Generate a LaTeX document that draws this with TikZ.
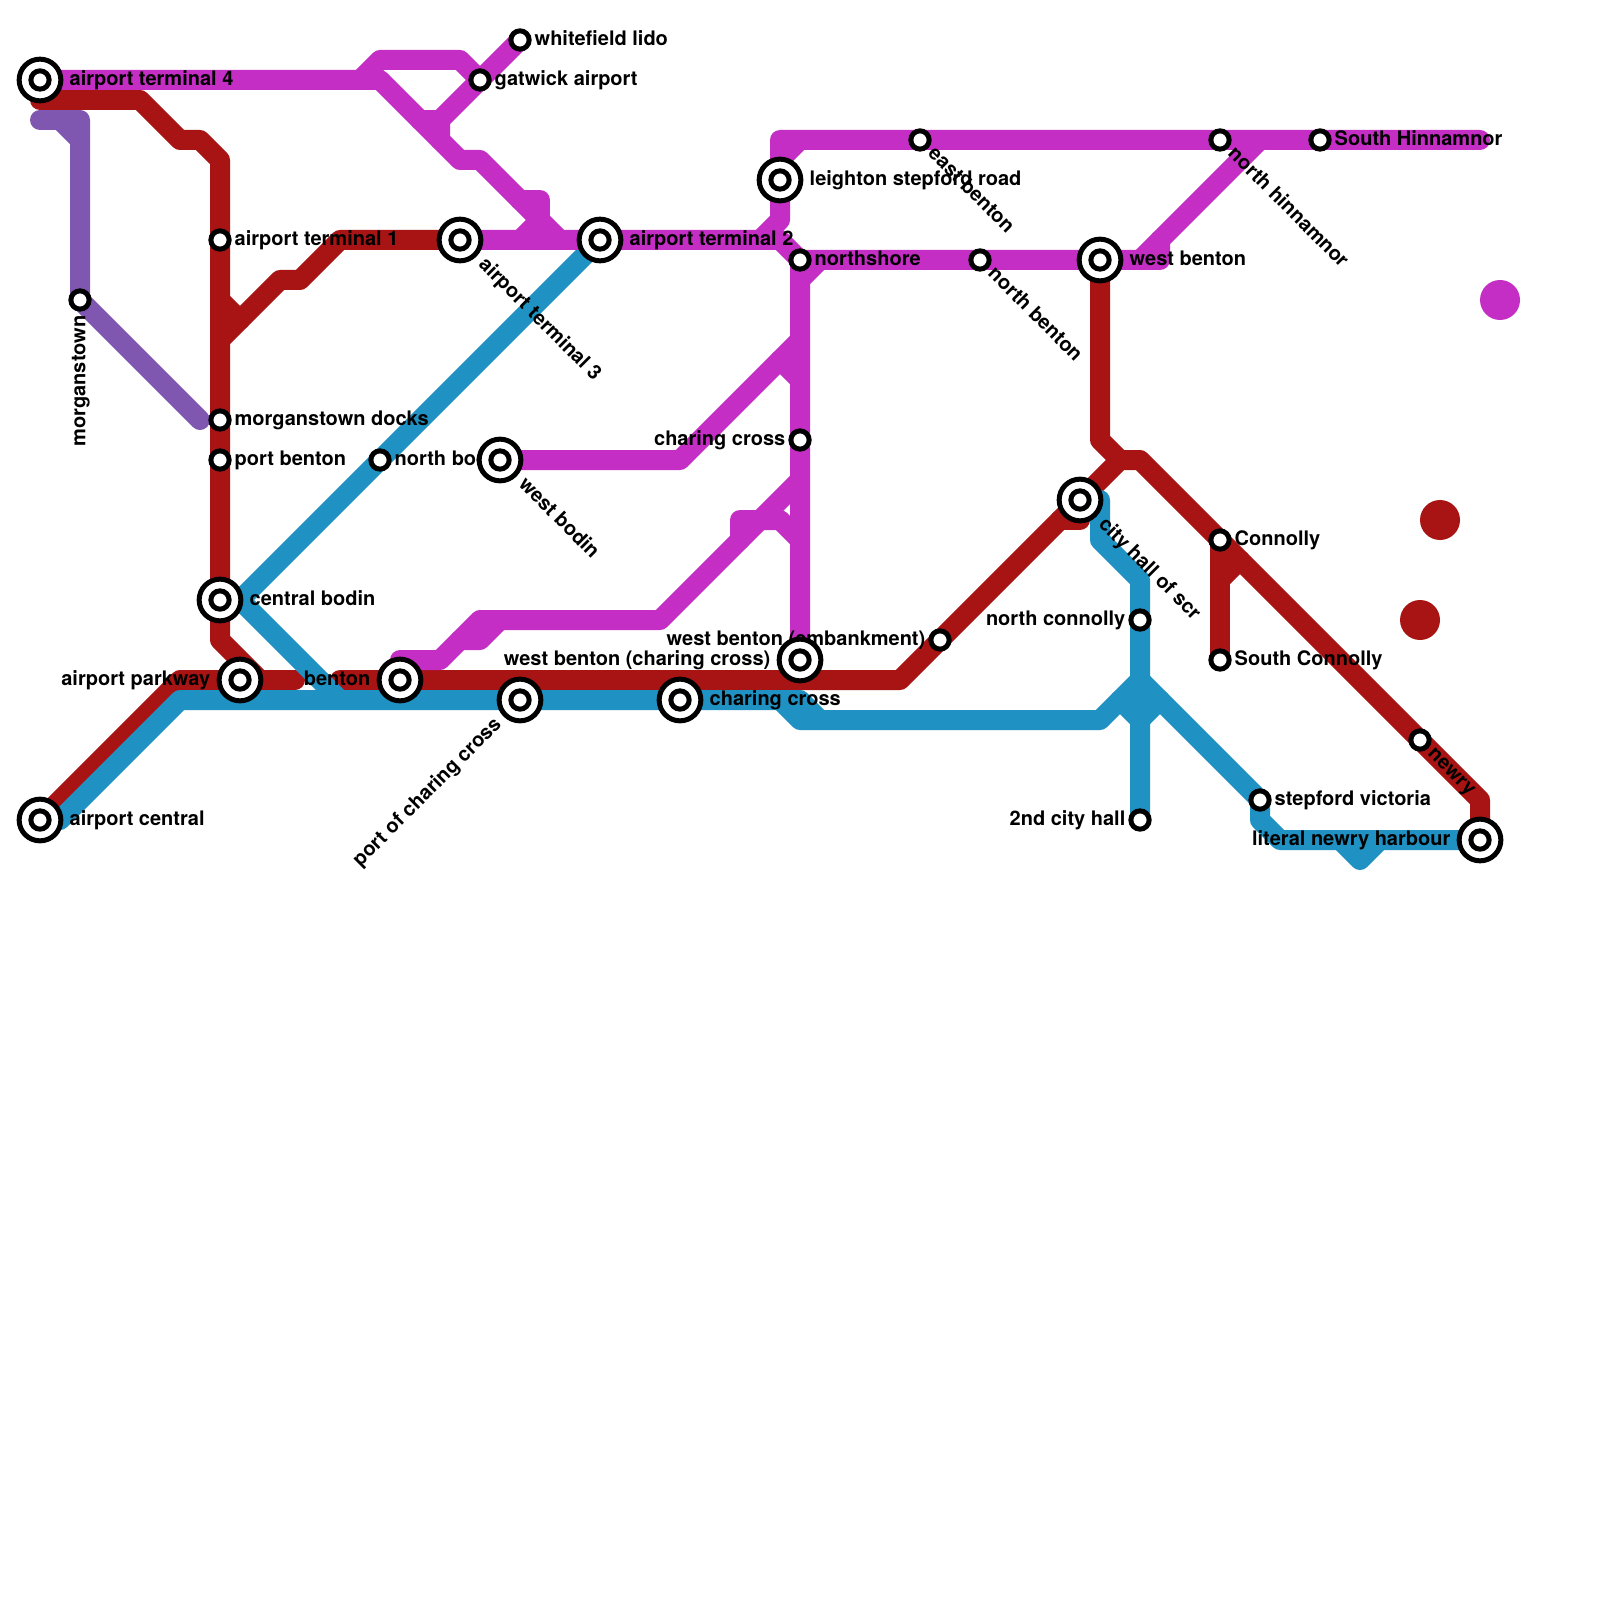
\documentclass[tikz,border=0pt]{standalone}
\usepackage{fontspec}
\setmainfont{TeX Gyre Heros}
\usetikzlibrary{positioning}
\definecolor{magline}{HTML}{C42EC4}
\definecolor{redline}{HTML}{A81414}
\definecolor{blueline}{HTML}{1F91C2}
\definecolor{purpline}{HTML}{7F57B0}
\tikzset{
    route/.style={line width=2mm,line cap=round,line join=round},
    bigstop/.style={circle,draw=black,fill=white,line width=0.5mm,minimum size=4.17mm,inner sep=0},
    smallstop/.style={circle,draw=black,fill=white,line width=0.5mm,minimum size=1.83mm,inner sep=0},
    stoplabel/.style={font=\bfseries\fontsize{5.69pt}{7pt}\selectfont,text=black,inner sep=0,
        text height=1.5mm,text depth=0.4mm},
    downlabel/.style={stoplabel,rotate=-45,anchor=west}
}
\begin{document}
\begin{tikzpicture}[x=2mm,y=-2mm]
    \useasboundingbox (0,0) rectangle (80,80);
    % interchanges
    \foreach \name/\x/\y in {at4/2/4,acen/2/41,cbod/11/30,apk/12/34,ben/20/34,pch/26/35,chx/34/35,
        wbc/40/33,at3/23/12,wbod/25/23,at2/30/12,lsr/39/9,wben/55/13,chs/54/25,lnh/74/42}
        \coordinate (\name) at (\x,\y);
    % plain stops
    \foreach \name/\x/\y in {wfl/26/2,gat/24/4,at1/11/12,mdk/11/21,pbn/11/23,mgt/4/15,nbo/19/23,
        ebn/46/7,nsh/40/13,nbn/49/13,chc/40/22,wbe/47/32,nhn/61/7,shn/66/7,con/61/27,sco/61/33,
        nco/57/31,hall/57/41,stv/63/40,nwy/71/37}
        \coordinate (\name) at (\x,\y);
    % purple line
    \draw[route,purpline] (2,6) -- (4,6) -- (mgt) -- (10,21);
    \draw[route,purpline] (3,6) -- (4,7);
    % red line
    \draw[route,redline] (2,5) -- (7,5) -- (9,7) -- (10,7) -- (11,8) -- (11,32) -- (13,34);
    \draw[route,redline] (11,17) -- (14,14) -- (15,14) -- (17,12) -- (at3);
    \draw[route,redline] (11,15) -- (12,16);
    \draw[route,redline] (acen) -- (9,34) -- (14.75,34);
    \draw[route,redline] (17,34) -- (45,34) -- (56,23) -- (57,23) -- (74,40) -- (lnh);
    \draw[route,redline] (53,26) -- (54,26);
    \draw[route,redline] (wben) -- (55,22) -- (56,23);
    \draw[route,redline] (con) -- (sco);
    \draw[route,redline] (61,29) -- (62,28);
    % blue line
    \draw[route,blueline] (acen) -- (3,41) -- (9,35) -- (40,35) -- (41,36);
    \draw[route,blueline] (39,35) -- (40,36) -- (55,36) -- (57,34) -- (stv) -- (63,41) -- (64,42) -- (lnh);
    \draw[route,blueline] (at2) -- (12,30) -- (17,35);
    \draw[route,blueline] (55,25) -- (55,27) -- (57,29) -- (hall);
    \draw[route,blueline] (56,35) -- (57,36) -- (58,35);
    \draw[route,blueline] (67,42) -- (68,43) -- (69,42);
    % magenta line
    \draw[route,magline] (at4) -- (19,4) -- (23,8) -- (24,8) -- (28,12);
    \draw[route,magline] (18,4) -- (19,3) -- (23,3) -- (gat);
    \draw[route,magline] (wfl) -- (22,6) -- (22,7);
    \draw[route,magline] (21,6) -- (22,6);
    \draw[route,magline] (26,10) -- (27,10) -- (27,12);
    \draw[route,magline] (26,12) -- (27,11);
    \draw[route,magline] (at3) -- (39,12) -- (40,13) -- (wbc);
    \draw[route,magline] (38,12) -- (39,11) -- (39,7) -- (74,7);
    \draw[route,magline] (39,8) -- (40,7);
    \draw[route,magline] (40,14) -- (41,13);
    \draw[route,magline] (nsh) -- (58,13) -- (58,12) -- (63,7);
    \draw[route,magline] (57,13) -- (58,12);
    \draw[route,magline] (wbod) -- (34,23) -- (40,17);
    \draw[route,magline] (39,18) -- (40,19);
    \draw[route,magline] (20,33) -- (22,33) -- (24,31) -- (33,31) -- (40,24);
    \draw[route,magline] (23,32) -- (24,32) -- (25,31);
    \draw[route,magline] (37,27) -- (37,26) -- (39,26) -- (40,27);
    % loose dots
    \fill[magline] (75,15) circle (2mm);
    \fill[redline] (72,26) circle (2mm);
    \fill[redline] (71,31) circle (2mm);
    % labels to the right
    \node[stoplabel,right=2.9mm of at4] (at4-t) {airport terminal 4};
    \node[stoplabel,right=2.9mm of acen] (acen-t) {airport central};
    \node[stoplabel,right=2.9mm of cbod] (cbod-t) {central bodin};
    \node[stoplabel,right=2.9mm of chx] (chx-t) {charing cross};
    \node[stoplabel,right=2.9mm of at2] (at2-t) {airport terminal 2};
    \node[stoplabel,right=2.9mm of lsr] (lsr-t) {leighton stepford road};
    \node[stoplabel,right=2.9mm of wben] (wben-t) {west benton};
    \node[stoplabel,right=1.4mm of wfl] (wfl-t) {whitefield lido};
    \node[stoplabel,right=1.4mm of gat] (gat-t) {gatwick airport};
    \node[stoplabel,right=1.4mm of at1] (at1-t) {airport terminal 1};
    \node[stoplabel,right=1.4mm of mdk] (mdk-t) {morganstown docks};
    \node[stoplabel,right=1.4mm of pbn] (pbn-t) {port benton};
    \node[stoplabel,right=1.4mm of nbo] (nbo-t) {north bodin};
    \node[stoplabel,right=1.4mm of nsh] (nsh-t) {northshore};
    \node[stoplabel,right=1.4mm of shn] (shn-t) {South Hinnamnor};
    \node[stoplabel,right=1.4mm of con] (con-t) {Connolly};
    \node[stoplabel,right=1.4mm of sco] (sco-t) {South Connolly};
    \node[stoplabel,right=1.4mm of stv] (stv-t) {stepford victoria};
    % labels to the left
    \node[stoplabel,left=2.9mm of apk] (apk-t) {airport parkway};
    \node[stoplabel,left=2.9mm of ben] (ben-t) {benton};
    \node[stoplabel,left=2.9mm of wbc] (wbc-t) {west benton (charing cross)};
    \node[stoplabel,left=2.9mm of lnh] (lnh-t) {literal newry harbour};
    \node[stoplabel,left=1.4mm of chc] (chc-t) {charing cross};
    \node[stoplabel,left=1.4mm of wbe] (wbe-t) {west benton (embankment)};
    \node[stoplabel,left=1.4mm of nco] (nco-t) {north connolly};
    \node[stoplabel,left=1.4mm of hall] (hall-t) {2nd city hall};
    % slanted labels
    \node[downlabel] (at3-t) at ([shift={(-45:3mm)}]at3) {airport terminal 3};
    \node[downlabel] (wbod-t) at ([shift={(-45:3mm)}]wbod) {west bodin};
    \node[downlabel] (chs-t) at ([shift={(-45:3mm)}]chs) {city hall of scr};
    \node[downlabel] (ebn-t) at ([shift={(-45:1.5mm)}]ebn) {east benton};
    \node[downlabel] (nbn-t) at ([shift={(-45:1.5mm)}]nbn) {north benton};
    \node[downlabel] (nhn-t) at ([shift={(-45:1.5mm)}]nhn) {north hinnamnor};
    \node[downlabel] (nwy-t) at ([shift={(-45:1.5mm)}]nwy) {newry};
    \node[stoplabel,rotate=45,anchor=east] (pch-t) at ([shift={(225:3mm)}]pch) {port of charing cross};
    \node[stoplabel,rotate=90,anchor=east] (mgt-t) at ([shift={(-90:1.5mm)}]mgt) {morganstown};
    % stops on top
    \foreach \name in {at4,acen,cbod,apk,ben,pch,chx,wbc,at3,wbod,at2,lsr,wben,chs,lnh} {
        \node[bigstop] (\name-ring) at (\name) {};
        \node[smallstop] (\name-stop) at (\name) {};
    }
    \foreach \name in {wfl,gat,at1,mdk,pbn,mgt,nbo,ebn,nsh,nbn,chc,wbe,nhn,shn,con,sco,nco,hall,stv,nwy}
        \node[smallstop] (\name-stop) at (\name) {};
\end{tikzpicture}
\end{document}
